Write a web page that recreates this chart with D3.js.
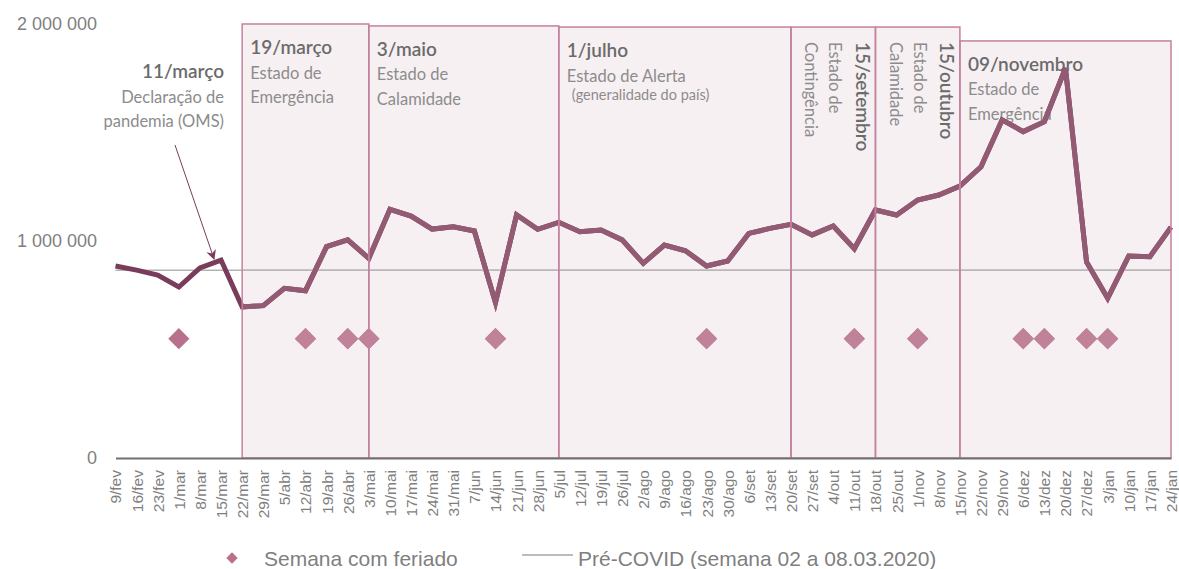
<!DOCTYPE html>
<html><head><meta charset="utf-8">
<script src="https://cdn.jsdelivr.net/npm/d3@7"></script>
<style>
html,body{margin:0;padding:0;background:#fff;}
svg{display:block;}
</style></head>
<body>
<svg id="chart" width="1179" height="569"></svg>
<script>
// ---------- DATA ----------
const weeks = ["9/fev","16/fev","23/fev","1/mar","8/mar","15/mar","22/mar","29/mar","5/abr","12/abr","19/abr","26/abr","3/mai","10/mai","17/mai","24/mai","31/mai","7/jun","14/jun","21/jun","28/jun","5/jul","12/jul","19/jul","26/jul","2/ago","9/ago","16/ago","23/ago","30/ago","6/set","13/set","20/set","27/set","4/out","11/out","18/out","25/out","1/nov","8/nov","15/nov","22/nov","29/nov","6/dez","13/dez","20/dez","27/dez","3/jan","10/jan","17/jan","24/jan"];
const weeklyValues = [885000,866000,843000,788000,876000,912000,696000,702000,782000,771000,974000,1005000,920000,1146000,1115000,1055000,1066000,1046000,716000,1120000,1054000,1086000,1043000,1051000,1005000,897000,981000,955000,885000,908000,1035000,1058000,1077000,1028000,1069000,964000,1143000,1120000,1189000,1212000,1253000,1342000,1558000,1504000,1550000,1796000,903000,736000,931000,928000,1064000];
const holidayWeeks = ["1/mar","12/abr","26/abr","3/mai","14/jun","23/ago","11/out","1/nov","6/dez","13/dez","27/dez","3/jan"];
const holidayMarkerValue = 550000;
const preCovidValue = 865000;
const yTicks = [0,1000000,2000000];
// periods: start week, end week, top value
const periodStart = ["22/mar","3/mai","5/jul","20/set","18/out","15/nov"];
const periodEnd   = ["3/mai","5/jul","20/set","18/out","15/nov","24/jan"];
const periodTop   = [2000000,1991000,1986000,1986000,1986000,1922000];
const periodTitle = ["19/março","3/maio","1/julho","15/setembro","15/outubro","09/novembro"];
const periodLines = [["Estado de","Emergência"],["Estado de","Calamidade"],["Estado de Alerta"],["Estado de","Contingência"],["Estado de","Calamidade"],["Estado de","Emergência"]];
const periodVertical = [false,false,false,true,true,false];

// ---------- SETUP ----------
const svg = d3.select("#chart");
const x = d3.scalePoint().domain(weeks).range([115.5, 1171]);
const y = d3.scaleLinear().domain([0, 2000000]).range([458, 24]);

const boxFill = "#f7f0f3", boxStroke = "#c4819f";
const lineDark = "#7a3c5b", lineLight = "#935a74";
const diaDark = "#b9708c", diaLight = "#bf8299";
const titleCol = "#6b6b6b", subCol = "#8c8c8c", axisText = "#7f7f7f";
const annoFont = "Lato, 'Open Sans', sans-serif";
const arial = "'Liberation Sans', Arial, sans-serif";

const defs = svg.append("defs");
const clip = defs.append("clipPath").attr("id","boxclip");
periodStart.forEach((s,i)=>{
  clip.append("rect").attr("x", x(s)).attr("y", y(periodTop[i]))
    .attr("width", x(periodEnd[i]) - x(s)).attr("height", y(0) - y(periodTop[i]));
});
defs.append("marker").attr("id","arr").attr("viewBox","0 0 10 10").attr("refX",9).attr("refY",5)
  .attr("markerWidth",10).attr("markerHeight",10).attr("orient","auto").attr("markerUnits","userSpaceOnUse")
  .append("path").attr("d","M0,0 L10,5 L0,10 L3,5 Z").attr("fill", lineDark);

// box fills
const boxes = svg.append("g");
periodStart.forEach((s,i)=>{
  boxes.append("rect").attr("x", x(s)).attr("y", y(periodTop[i]))
    .attr("width", x(periodEnd[i]) - x(s)).attr("height", y(0) - y(periodTop[i]))
    .attr("fill", boxFill);
});

// annotations text
const ann = svg.append("g").attr("font-family", annoFont);
periodStart.forEach((s,i)=>{
  const x0 = x(s);
  if (!periodVertical[i]) {
    const tx = x0 + 8;
    const ty = y(periodTop[i]) + 30;
    ann.append("text").attr("x", tx).attr("y", ty).attr("fill", titleCol)
      .attr("font-size", 19).attr("font-weight", 600).text(periodTitle[i]);
    periodLines[i].forEach((l,j)=>{
      ann.append("text").attr("x", tx).attr("y", ty + 24.5*(j+1)).attr("fill", subCol)
        .attr("font-size", 16.5).text(l);
    });
  } else {
    const right = x(periodEnd[i]) - 14;
    const ty = 42;
    const gg = ann.append("g");
    gg.append("text").attr("transform", `translate(${right + 2},${ty}) rotate(90)`)
      .attr("dominant-baseline","central").attr("fill", titleCol)
      .attr("font-size", 19).attr("font-weight", 600).text(periodTitle[i]);
    periodLines[i].forEach((l,j)=>{
      gg.append("text").attr("transform", `translate(${right - 26 - 24*j},${ty}) rotate(90)`)
        .attr("dominant-baseline","central").attr("fill", subCol)
        .attr("font-size", 16.5).text(l);
    });
  }
});
ann.append("text").attr("x", x("5/jul") + 13).attr("y", 100).attr("fill", subCol)
  .attr("font-size", 14.5).text("(generalidade do país)");

// 11/março annotation
ann.append("text").attr("x", 224).attr("y", 78).attr("text-anchor","end").attr("fill", titleCol)
  .attr("font-size", 19).attr("font-weight", 600).text("11/março");
ann.append("text").attr("x", 224).attr("y", 103).attr("text-anchor","end").attr("fill", subCol)
  .attr("font-size", 16.5).text("Declaração de");
ann.append("text").attr("x", 224).attr("y", 127).attr("text-anchor","end").attr("fill", subCol)
  .attr("font-size", 16.5).text("pandemia (OMS)");
svg.append("line").attr("x1",175).attr("y1",145).attr("x2", x("15/mar") - 7).attr("y2", y(weeklyValues[5]) - 1)
  .attr("stroke", lineDark).attr("stroke-width",1).attr("marker-end","url(#arr)");

// series
function drawSeries(g, lc, dc, gc) {
  g.append("line").attr("x1", x(weeks[0])).attr("x2", x(weeks[weeks.length-1]))
    .attr("y1", y(preCovidValue)).attr("y2", y(preCovidValue))
    .attr("stroke", gc).attr("stroke-width", 1.5);
  g.append("path").datum(weeklyValues)
    .attr("d", d3.line().x((d,i)=>x(weeks[i])).y(d=>y(d)))
    .attr("fill","none").attr("stroke", lc).attr("stroke-width", 5).attr("stroke-linejoin","miter");
  g.selectAll("path.dia").data(holidayWeeks).join("path").attr("class","dia")
    .attr("d", d3.symbol().type(d3.symbolSquare).size(225))
    .attr("transform", d=>`translate(${x(d)},${y(holidayMarkerValue)}) rotate(45)`)
    .attr("fill", dc);
}
drawSeries(svg.append("g"), lineDark, diaDark, "#b3b3b3");
drawSeries(svg.append("g").attr("clip-path","url(#boxclip)"), lineLight, diaLight, "#bdb6b9");

// box strokes
periodStart.forEach((s,i)=>{
  svg.append("rect").attr("x", x(s)).attr("y", y(periodTop[i]))
    .attr("width", x(periodEnd[i]) - x(s)).attr("height", y(0) - y(periodTop[i]))
    .attr("fill", "none").attr("stroke", boxStroke).attr("stroke-width", 1.5);
});

// axes
const fmt = v => d3.format(",")(v).replace(/,/g, " ");
const yAx = svg.append("g").attr("transform","translate(97,0)")
  .call(d3.axisLeft(y).tickValues(yTicks).tickFormat(fmt).tickSize(0).tickPadding(0));
yAx.select(".domain").remove();
yAx.selectAll("text").attr("font-family", arial).attr("font-size", 18).attr("fill", axisText);

const xAx = svg.append("g").attr("transform", `translate(0,${y(0)})`)
  .call(d3.axisBottom(x).tickSize(0).tickPadding(0));
xAx.select(".domain").attr("stroke", "#707070").attr("stroke-width", 1.8);
xAx.selectAll("text").attr("font-family", arial).attr("font-size", 15.5).attr("fill", axisText)
  .attr("transform","rotate(-90)").attr("text-anchor","end").attr("dy","0.35em").attr("x",-12).attr("y",0);

// legend
const lg = svg.append("g");
lg.append("path").attr("d", d3.symbol().type(d3.symbolSquare).size(64))
  .attr("transform","translate(232,558) rotate(45)").attr("fill", diaDark);
lg.append("text").attr("x",264).attr("y",558).attr("dominant-baseline","central")
  .attr("font-family", arial).attr("font-size", 21).attr("fill", axisText).text("Semana com feriado");
lg.append("line").attr("x1",522).attr("x2",573).attr("y1",555).attr("y2",555).attr("stroke","#a6a6a6").attr("stroke-width",1.3);
lg.append("text").attr("x",578).attr("y",558).attr("dominant-baseline","central")
  .attr("font-family", arial).attr("font-size", 21).attr("fill", axisText).text("Pré-COVID (semana 02 a 08.03.2020)");
</script>
</body></html>
